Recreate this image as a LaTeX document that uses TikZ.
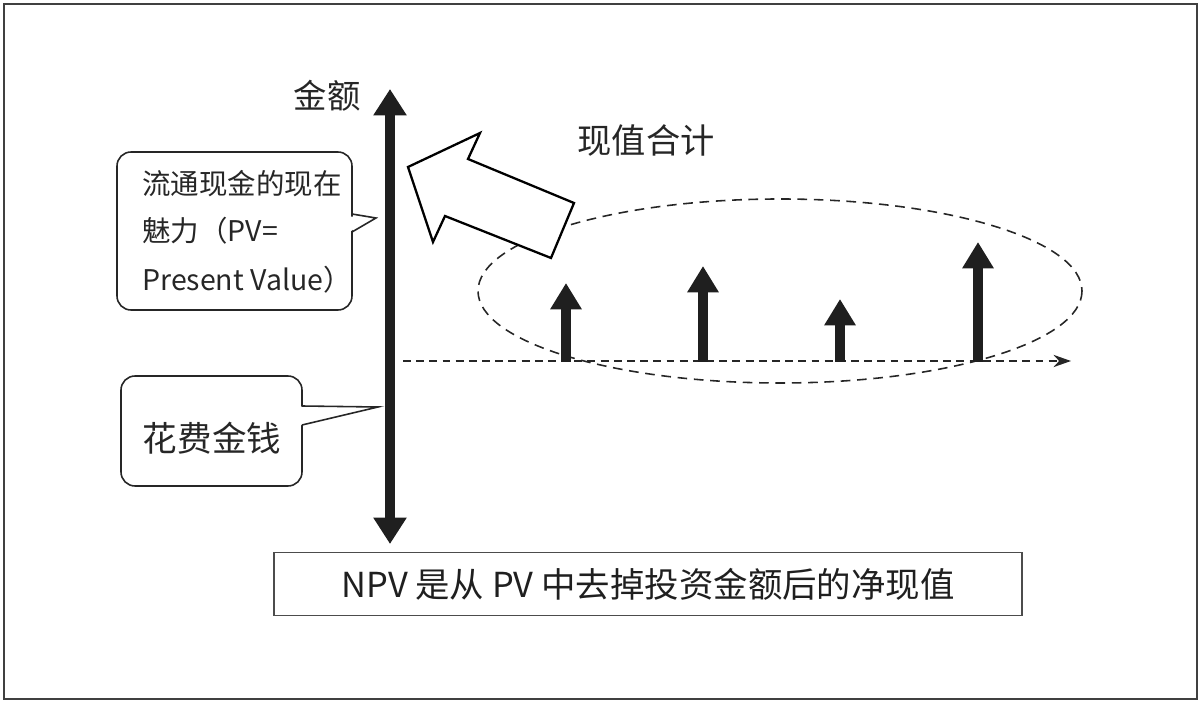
\documentclass[tikz,border=0pt]{standalone}
\usepackage{fontspec}
\setmainfont{Noto Sans CJK SC}
\usetikzlibrary{arrows.meta}
\begin{document}
\begin{tikzpicture}[x=0.02cm,y=-0.02cm,
  frame/.style={draw=black!75,line width=1.1pt},
  callout/.style={draw=black!85,line width=0.9pt,rounded corners=8pt},
  thickarrow/.style={line width=5.5pt,draw=black!88,-{Triangle[width=17pt,length=15pt]}},
  axisarrow/.style={line width=5.5pt,draw=black!88,{Triangle[width=18pt,length=15pt]}-{Triangle[width=18pt,length=15pt]}},
  dashline/.style={draw=black!85,line width=0.9pt,dash pattern=on 5.5pt off 3.8pt},
  lbl/.style={inner sep=0pt,text=black!85}]
\useasboundingbox (0,0) rectangle (1200,705);
\draw[frame] (4,4) rectangle (1197,699);

% vertical axis
\coordinate (atop) at (390,89);
\coordinate (abot) at (390,544);
\draw[axisarrow] (abot) -- (atop);
\node[lbl,font=\fontsize{19pt}{20pt}\selectfont] (jine) at (327,96) {金额};

% horizontal dashed axis
\coordinate (hs) at (403,361);
\coordinate (he) at (1071,361);
\draw[dashline,dash pattern=on 4.5pt off 3pt,-{Stealth[length=10pt,width=7pt]}] (hs) -- (he);

% ellipse
\draw[dashline] (780,291) ellipse [x radius=302, y radius=92];

% up arrows
\coordinate (b1) at (566,362); \coordinate (t1) at (566,283);
\coordinate (b2) at (703,362); \coordinate (t2) at (703,266);
\coordinate (b3) at (840,362); \coordinate (t3) at (840,299);
\coordinate (b4) at (978,362); \coordinate (t4) at (978,242);
\draw[thickarrow] (b1) -- (t1);
\draw[thickarrow] (b2) -- (t2);
\draw[thickarrow] (b3) -- (t3);
\draw[thickarrow] (b4) -- (t4);

% big hollow arrow
\draw[fill=white,line width=1.3pt,line join=miter]
  (408,167) -- (480,133) -- (468,159) -- (574,203) -- (551,258) -- (445,216) -- (433,242) -- cycle;
\node[lbl,font=\fontsize{19.5pt}{20pt}\selectfont] (xz) at (646,140) {现值合计};

% callout 1
\draw[callout] (117,152) rectangle (352,310);
\coordinate (p1) at (376,218);
\draw[fill=white,draw=white] (350,217) -- (p1) -- (350,231) -- cycle;
\draw[draw=black!85,line width=0.9pt] (352,214) -- (p1) -- (352,232);
\node[lbl,anchor=west,font=\fontsize{16.2pt}{16pt}\selectfont] (c1a) at (142,184) {流通现金的现在};
\node[lbl,anchor=west,font=\fontsize{16.2pt}{16pt}\selectfont] (c1b) at (142,231) {魅力（PV=};
\node[lbl,anchor=west,font=\fontsize{16.2pt}{16pt}\selectfont] (c1c) at (142,280) {Present Value）};

% callout 2
\draw[callout] (121,376) rectangle (302,486);
\coordinate (p2) at (378,407);
\draw[fill=white,draw=white] (300,407) -- (p2) -- (300,425) -- cycle;
\draw[draw=black!85,line width=0.9pt] (302,406) -- (p2) -- (302,425);
\node[lbl,font=\fontsize{19.7pt}{20pt}\selectfont] (c2) at (212,438) {花费金钱};

% bottom box
\node[draw=black!70,line width=0.8pt,minimum width=748*0.02cm,minimum height=63*0.02cm,inner sep=0pt,font=\fontsize{19.6pt}{20pt}\selectfont,text=black!88] (npv) at (648,584) {NPV 是从 PV 中去掉投资金额后的净现值};
\end{tikzpicture}
\end{document}
